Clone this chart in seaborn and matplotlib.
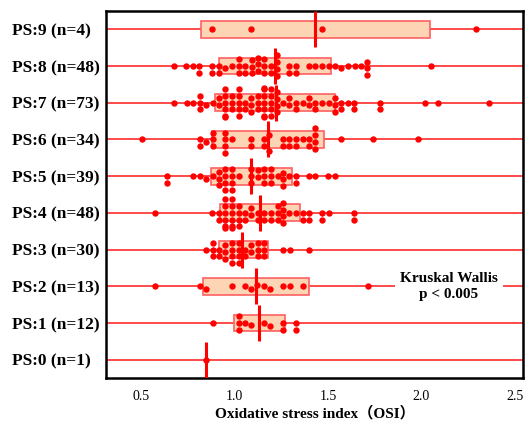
import matplotlib
matplotlib.use("Agg")
import matplotlib.pyplot as plt
import seaborn as sns
import pandas as pd

plt.rcParams['font.family'] = ['Liberation Serif', 'Noto Sans CJK SC']

# ---------------- data ----------------
categories = ["PS:9 (n=4)", "PS:8 (n=48)", "PS:7 (n=73)", "PS:6 (n=34)", "PS:5 (n=39)",
              "PS:4 (n=48)", "PS:3 (n=30)", "PS:2 (n=13)", "PS:1 (n=12)", "PS:0 (n=1)"]

ps9 = [0.880, 1.088, 1.468, 2.291]
ps8 = ([0.678, 0.741, 0.776] + [0.812] * 2 + [0.880] * 2 + [0.919] * 2 + [0.951, 0.987]
       + [1.022] * 3 + [1.058] * 2 + [1.092] * 3 + [1.124] * 3 + [1.160] * 3 + [1.195] * 2
       + [1.226] * 4 + [1.290] * 2 + [1.329] * 2
       + [1.397, 1.432, 1.468, 1.504, 1.539, 1.571, 1.607, 1.643, 1.678]
       + [1.710] * 3 + [2.053])
ps7 = ([0.678, 0.744, 0.780] + [0.816] * 3 + [0.848, 0.883] + [0.915] * 2 + [0.951] * 6
       + [0.987] * 3 + [1.022] * 5 + [1.058] * 2 + [1.090] * 3 + [1.124] * 3 + [1.160] * 7
       + [1.195] * 5 + [1.226] * 4 + [1.261] + [1.293] * 2 + [1.329] * 2 + [1.365]
       + [1.397] * 2 + [1.432] * 2 + [1.468, 1.504] + [1.536] * 3 + [1.571] * 2 + [1.605]
       + [1.641] * 2 + [1.778] * 2 + [2.019, 2.086, 2.363])
ps6 = ([0.505] + [0.816] * 2 + [0.848] + [0.883] * 3 + [0.951] * 4 + [0.987] + [1.090] * 2
       + [1.160] * 2 + [1.186] * 2 + [1.258] * 2 + [1.293] * 2 + [1.329] * 2 + [1.365]
       + [1.400] * 2 + [1.432] * 4 + [1.571, 1.742, 1.983])
ps5 = ([0.639] * 2 + [0.780, 0.816, 0.848, 0.883] + [0.915] * 3 + [0.951] * 4 + [0.987] * 4
       + [1.022] + [1.090] * 3 + [1.124] * 2 + [1.160] * 3 + [1.195] * 3 + [1.231]
       + [1.261] * 3 + [1.293] + [1.329] * 2 + [1.397, 1.432, 1.498, 1.536])
ps4 = ([0.575, 0.880] + [0.915] * 2 + [0.951] * 6 + [0.987] * 6 + [1.022] * 4 + [1.058] * 2
       + [1.090] * 2 + [1.124] * 2 + [1.160] * 2 + [1.195] * 2 + [1.231] * 3 + [1.261] * 4
       + [1.293, 1.329] + [1.365] * 2 + [1.400] * 2 + [1.468] * 2 + [1.504] + [1.641] * 2)
ps3 = ([0.848] + [0.883] * 3 + [0.919] * 2 + [0.951] * 3 + [0.987] * 4 + [1.022] * 4
       + [1.058] * 2 + [1.090] * 2 + [1.124] * 3 + [1.160] * 3 + [1.261, 1.297, 1.397])
ps2 = [0.575, 0.816, 0.848, 0.987, 1.058, 1.090, 1.119, 1.160, 1.190, 1.261, 1.297, 1.365, 1.712]
ps1 = [0.883] + [1.022] * 3 + [1.058, 1.090, 1.160, 1.190] + [1.261] * 2 + [1.329] * 2
ps0 = [0.848]

# box statistics (lower edge, median, upper edge)
box_q1 = [0.821, 0.915, 0.897, 0.880, 0.874, 0.924, 0.915, 0.830, 0.996, 0.848]
box_med = [1.432, 1.218, 1.220, 1.177, 1.090, 1.136, 1.040, 1.115, 1.133, 0.848]
box_q3 = [2.047, 1.518, 1.536, 1.480, 1.306, 1.350, 1.177, 1.400, 1.270, 0.848]

x_ticks = [0.5, 1.0, 1.5, 2.0, 2.5]
x_tick_labels = ["0.5", "1.0", "1.5", "2.0", "2.5"]
x_label = "Oxidative stress index（OSI）"
annotation = "Kruskal Wallis\np < 0.005"

# ---------------- build table ----------------
groups = [ps9, ps8, ps7, ps6, ps5, ps4, ps3, ps2, ps1, ps0]
rows = []
for cat, vals in zip(categories, groups):
    for v in vals:
        rows.append({"PS": cat, "OSI": v})
df = pd.DataFrame(rows)

# ---------------- plot ----------------
fig = plt.figure(figsize=(5.28, 4.24), dpi=100)
ax = fig.add_axes([106 / 528, 46 / 424, 417 / 528, 367 / 424])

positions = list(range(len(categories)))
for p in positions:
    ax.axhline(p, color='red', lw=1.1, alpha=0.9, zorder=1)

sns.swarmplot(data=df, x="OSI", y="PS", order=categories, color='#FF0000',
              size=4.6, linewidth=0, ax=ax, zorder=3, warn_thresh=1)

stats = [dict(q1=a, med=m, q3=b, whislo=a, whishi=b, fliers=[])
         for a, m, b in zip(box_q1, box_med, box_q3)]
ax.bxp(stats, positions=positions, widths=0.46, orientation='horizontal',
       patch_artist=True, showcaps=False, showfliers=False, manage_ticks=False,
       boxprops=dict(facecolor='#FDD5B5', edgecolor='#FF6060', linewidth=1.2),
       whiskerprops=dict(linewidth=0), medianprops=dict(linewidth=0), zorder=2)
ax.bxp(stats, positions=positions, widths=0.98, orientation='horizontal',
       showbox=False, showcaps=False, showfliers=False, manage_ticks=False,
       whiskerprops=dict(linewidth=0),
       medianprops=dict(color='red', linewidth=2.2, solid_capstyle='butt'), zorder=4)

ax.set_xlim(0.313, 2.543)
ax.set_ylim(len(categories) - 0.5, -0.5)

ax.set_xticks(x_ticks)
ax.set_xticklabels(x_tick_labels)
ax.tick_params(axis='x', length=0, pad=9, labelsize=10)
ax.tick_params(axis='y', length=0, pad=67.7, labelsize=12.5)
for lab in ax.get_yticklabels():
    lab.set_ha('left')
    lab.set_fontweight('bold')

ax.set_xlabel(x_label, fontweight='bold', fontsize=11, labelpad=2)
ax.set_ylabel('')

for s in ax.spines.values():
    s.set_linewidth(1.8)
    s.set_color('black')

ax.text(2.147, 7, annotation, ha='center', va='center', fontsize=11,
        fontweight='bold', zorder=5, linespacing=1.3,
        bbox=dict(facecolor='white', edgecolor='none', boxstyle='square,pad=0.35'))

fig.savefig('out.png', dpi=100)
